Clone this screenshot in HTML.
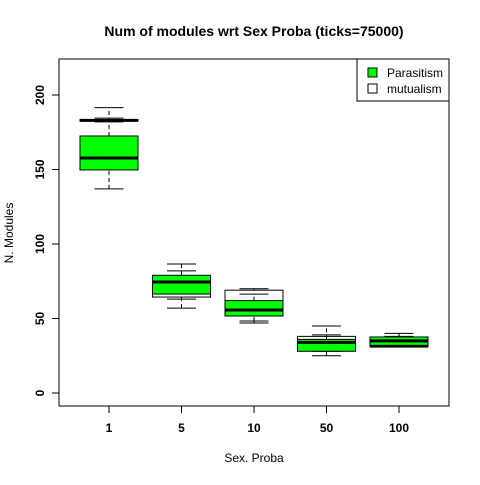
<!DOCTYPE html>
<html><head><meta charset="utf-8"><style>
body{margin:0;background:#fff}
svg text{font-family:"Liberation Sans",Arial,sans-serif}
</style></head><body>
<svg id="chart" width="480" height="480" xmlns="http://www.w3.org/2000/svg">
<rect width="480" height="480" fill="#fff"/>
<text x="254" y="36" text-anchor="middle" font-size="14" font-weight="bold">Num of modules wrt Sex Proba (ticks=75000)</text>
<text x="254" y="462" text-anchor="middle" font-size="12">Sex. Proba</text>
<text transform="translate(13,233) rotate(-90)" text-anchor="middle" font-size="12">N. Modules</text>
<g id="marks"></g>
<rect x="59" y="59" width="390" height="347" fill="none" stroke="#000"/>
<g>
<rect x="357" y="59" width="92" height="42" fill="#fff" stroke="#000"/>
<rect x="368" y="68" width="9" height="9" fill="#00ff00" stroke="#000"/>
<text x="387" y="77" font-size="12">Parasitism</text>
<rect x="368" y="84" width="9" height="9" fill="#fff" stroke="#000"/>
<text x="387" y="93" font-size="12">mutualism</text>
</g>
</svg>
<script>
const categories = ["1","5","10","50","100"];
// [lowWhisker, q1, median, q3, highWhisker]
const mutualism = [[182,182.5,183,183.5,184.5],[63,64.4,71,78,82],[48.3,51.7,56,69,70],[28,29,33,38,39],[31,31,31.5,37,38]];
const parasitism = [[137,149.7,157.7,172.5,191.5],[57,66.4,74.5,79,86.6],[47,51.7,55.7,62,66.4],[25,28,34,36,45],[31,32,35,37.6,40]];
const yTicks = [0,50,100,150,200];

const svg=document.getElementById('chart'), g=document.getElementById('marks');
const NS='http://www.w3.org/2000/svg';
const y=v=>393-v*1.49;
const x=i=>109+i*72.5;
function mk(t,a){const e=document.createElementNS(NS,t);for(const k in a)e.setAttribute(k,a[k]);return e;}
yTicks.forEach(v=>{
  const l=mk('line',{x1:52,x2:59,y1:y(v),y2:y(v),stroke:'#000'});
  
  
  svg.appendChild(l);
  const t=mk('text',{transform:`translate(44,${y(v)}) rotate(-90)`,'text-anchor':'middle','font-size':12,'font-weight':'bold'});
  t.textContent=v;
  
  
  svg.appendChild(t);
});
categories.forEach((c,i)=>{
  const l=mk('line',{x1:x(i),x2:x(i),y1:406,y2:413,stroke:'#000'});
  
  
  svg.appendChild(l);
  const t=mk('text',{x:x(i),y:432,'text-anchor':'middle','font-size':12,'font-weight':'bold'});
  t.textContent=c;
  
  
  svg.appendChild(t);
});
function box(s,i,fill,name){
  const cx=x(i),hw=29,cw=14.5;
  const grp=mk('g',{});
  
  
  grp.appendChild(mk('line',{x1:cx,x2:cx,y1:y(s[0]),y2:y(s[1]),stroke:'#000','stroke-dasharray':'4,3'}));
  grp.appendChild(mk('line',{x1:cx,x2:cx,y1:y(s[3]),y2:y(s[4]),stroke:'#000','stroke-dasharray':'4,3'}));
  grp.appendChild(mk('line',{x1:cx-cw,x2:cx+cw,y1:y(s[0]),y2:y(s[0]),stroke:'#000'}));
  grp.appendChild(mk('line',{x1:cx-cw,x2:cx+cw,y1:y(s[4]),y2:y(s[4]),stroke:'#000'}));
  grp.appendChild(mk('rect',{x:cx-hw,y:y(s[3]),width:2*hw,height:Math.max(0.5,y(s[1])-y(s[3])),fill:fill,stroke:'#000'}));
  grp.appendChild(mk('line',{x1:cx-hw,x2:cx+hw,y1:y(s[2]),y2:y(s[2]),stroke:'#000','stroke-width':3}));
  g.appendChild(grp);
}
mutualism.forEach((s,i)=>box(s,i,'#fff','mutualism'));
parasitism.forEach((s,i)=>box(s,i,'#00ff00','parasitism'));
</script>
</body></html>
